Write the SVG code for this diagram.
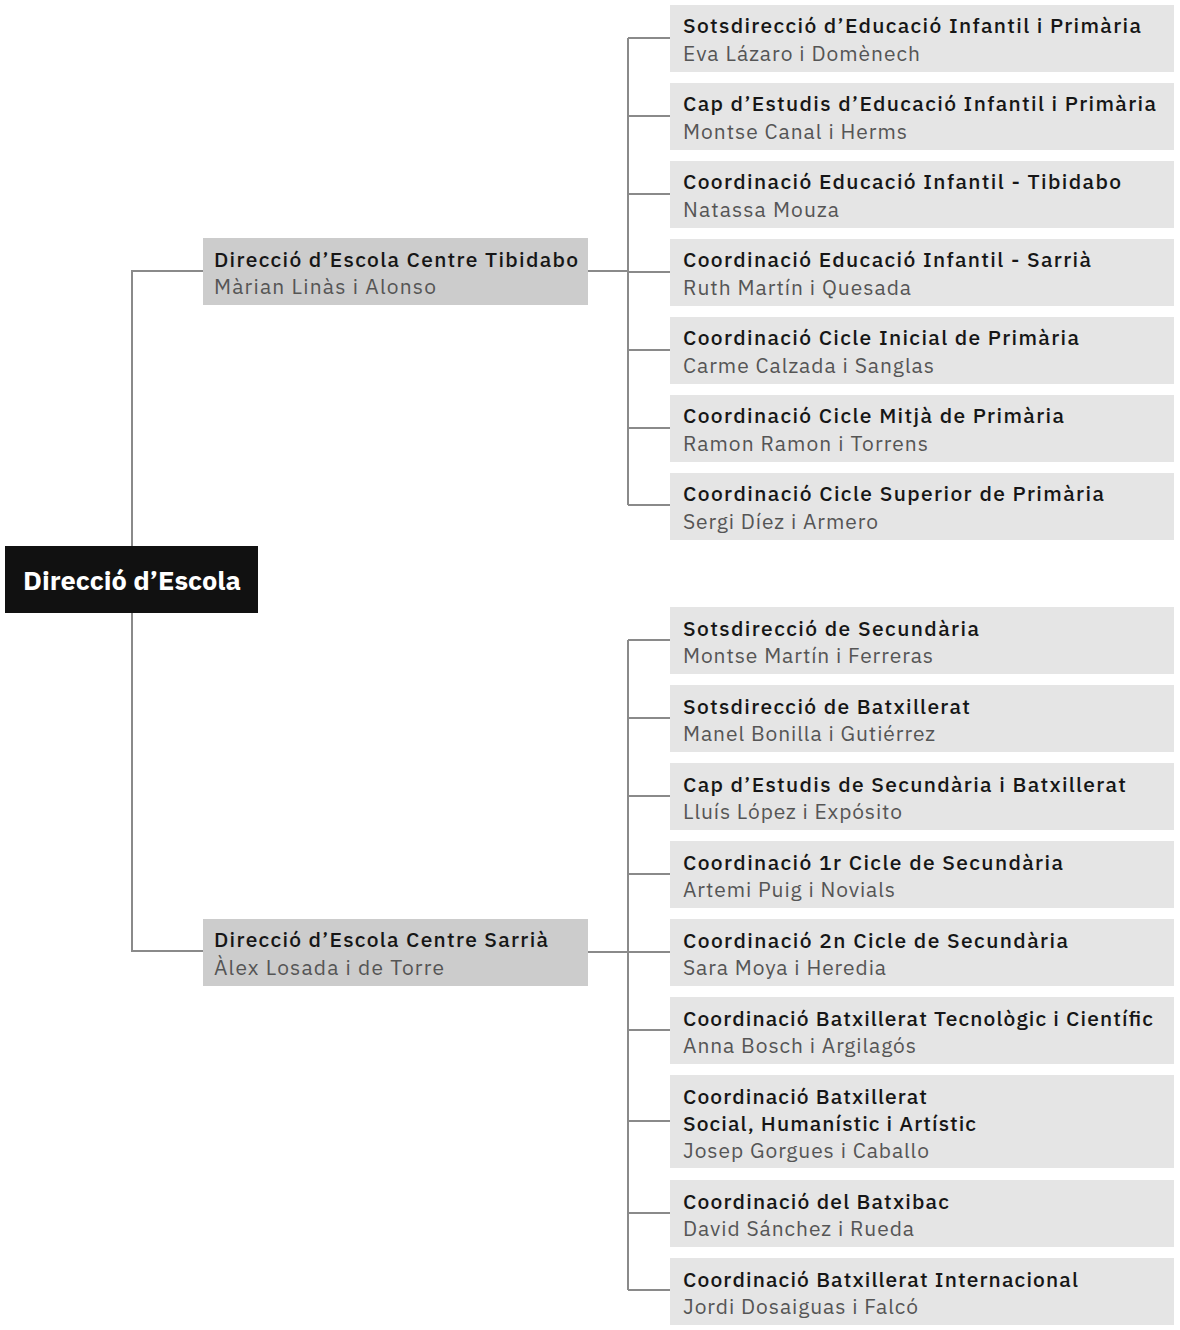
<svg xmlns="http://www.w3.org/2000/svg" width="1180" height="1330" viewBox="0 0 1180 1330">
<style>
.t{font-family:"IBM Plex Sans",Inter,"Noto Sans",sans-serif;font-size:21px;font-weight:500;fill:#161616}
.n{font-family:"IBM Plex Sans",Inter,"Noto Sans",sans-serif;font-size:21px;font-weight:400;fill:#555555}
.r{font-family:"IBM Plex Sans",Inter,"Noto Sans",sans-serif;font-size:25px;font-weight:700;fill:#ffffff}
.c{fill:#e5e5e5}
.m{fill:#cccccc}
.l{stroke:#8a8a8a;stroke-width:2;fill:none}
</style>
<g id="connectors" class="l">
<path d="M132 546V271H203M132 613V951H203"/>
<path d="M588 271H628M628 38V505M628 38H670M628 116H670M628 194H670M628 272H670M628 350H670M628 428H670M628 505H670"/>
<path d="M588 952H628M628 640V1290M628 640H670M628 718H670M628 796H670M628 874H670M628 952H670M628 1030H670M628 1121H670M628 1213H670M628 1290H670"/>
</g>
<g id="root"><rect x="5" y="546" width="253" height="67" fill="#111"/><text class="r" x="23" y="590" textLength="218" lengthAdjust="spacingAndGlyphs">Direcció d’Escola</text></g>
<g id="tibidabo"><rect class="m" x="203" y="238" width="385" height="67"/><text class="t" x="214" y="267" textLength="364">Direcció d’Escola Centre Tibidabo</text><text class="n" x="214" y="294" textLength="222">Màrian Linàs i Alonso</text></g>
<g id="sarria"><rect class="m" x="203" y="919" width="385" height="67"/><text class="t" x="214" y="947" textLength="334">Direcció d’Escola Centre Sarrià</text><text class="n" x="214" y="975" textLength="230">Àlex Losada i de Torre</text></g>
<g id="t1"><rect class="c" x="670" y="5" width="504" height="67"/><text class="t" x="683" y="33" textLength="458">Sotsdirecció d’Educació Infantil i Primària</text><text class="n" x="683" y="61" textLength="237">Eva Lázaro i Domènech</text></g>
<g id="t2"><rect class="c" x="670" y="83" width="504" height="67"/><text class="t" x="683" y="111" textLength="473">Cap d’Estudis d’Educació Infantil i Primària</text><text class="n" x="683" y="139" textLength="224">Montse Canal i Herms</text></g>
<g id="t3"><rect class="c" x="670" y="161" width="504" height="67"/><text class="t" x="683" y="189" textLength="438">Coordinació Educació Infantil - Tibidabo</text><text class="n" x="683" y="217" textLength="156">Natassa Mouza</text></g>
<g id="t4"><rect class="c" x="670" y="239" width="504" height="67"/><text class="t" x="683" y="267" textLength="408">Coordinació Educació Infantil - Sarrià</text><text class="n" x="683" y="295" textLength="228">Ruth Martín i Quesada</text></g>
<g id="t5"><rect class="c" x="670" y="317" width="504" height="67"/><text class="t" x="683" y="345" textLength="396">Coordinació Cicle Inicial de Primària</text><text class="n" x="683" y="373" textLength="251">Carme Calzada i Sanglas</text></g>
<g id="t6"><rect class="c" x="670" y="395" width="504" height="67"/><text class="t" x="683" y="423" textLength="381">Coordinació Cicle Mitjà de Primària</text><text class="n" x="683" y="451" textLength="245">Ramon Ramon i Torrens</text></g>
<g id="t7"><rect class="c" x="670" y="473" width="504" height="67"/><text class="t" x="683" y="501" textLength="421">Coordinació Cicle Superior de Primària</text><text class="n" x="683" y="529" textLength="195">Sergi Díez i Armero</text></g>
<g id="s1"><rect class="c" x="670" y="607" width="504" height="67"/><text class="t" x="683" y="636" textLength="296">Sotsdirecció de Secundària</text><text class="n" x="683" y="663" textLength="250">Montse Martín i Ferreras</text></g>
<g id="s2"><rect class="c" x="670" y="685" width="504" height="67"/><text class="t" x="683" y="714" textLength="287">Sotsdirecció de Batxillerat</text><text class="n" x="683" y="741" textLength="252">Manel Bonilla i Gutiérrez</text></g>
<g id="s3"><rect class="c" x="670" y="763" width="504" height="67"/><text class="t" x="683" y="792" textLength="443">Cap d’Estudis de Secundària i Batxillerat</text><text class="n" x="683" y="819" textLength="219">Lluís López i Expósito</text></g>
<g id="s4"><rect class="c" x="670" y="841" width="504" height="67"/><text class="t" x="683" y="870" textLength="380">Coordinació 1r Cicle de Secundària</text><text class="n" x="683" y="897" textLength="212">Artemi Puig i Novials</text></g>
<g id="s5"><rect class="c" x="670" y="919" width="504" height="67"/><text class="t" x="683" y="948" textLength="385">Coordinació 2n Cicle de Secundària</text><text class="n" x="683" y="975" textLength="203">Sara Moya i Heredia</text></g>
<g id="s6"><rect class="c" x="670" y="997" width="504" height="67"/><text class="t" x="683" y="1026" textLength="470">Coordinació Batxillerat Tecnològic i Científic</text><text class="n" x="683" y="1053" textLength="233">Anna Bosch i Argilagós</text></g>
<g id="s7"><rect class="c" x="670" y="1075" width="504" height="93"/><text class="t" x="683" y="1104" textLength="244">Coordinació Batxillerat</text><text class="t" x="683" y="1131" textLength="293">Social, Humanístic i Artístic</text><text class="n" x="683" y="1158" textLength="246">Josep Gorgues i Caballo</text></g>
<g id="s8"><rect class="c" x="670" y="1180" width="504" height="67"/><text class="t" x="683" y="1209" textLength="266">Coordinació del Batxibac</text><text class="n" x="683" y="1236" textLength="231">David Sánchez i Rueda</text></g>
<g id="s9"><rect class="c" x="670" y="1258" width="504" height="67"/><text class="t" x="683" y="1287" textLength="395">Coordinació Batxillerat Internacional</text><text class="n" x="683" y="1314" textLength="235">Jordi Dosaiguas i Falcó</text></g>
</svg>
